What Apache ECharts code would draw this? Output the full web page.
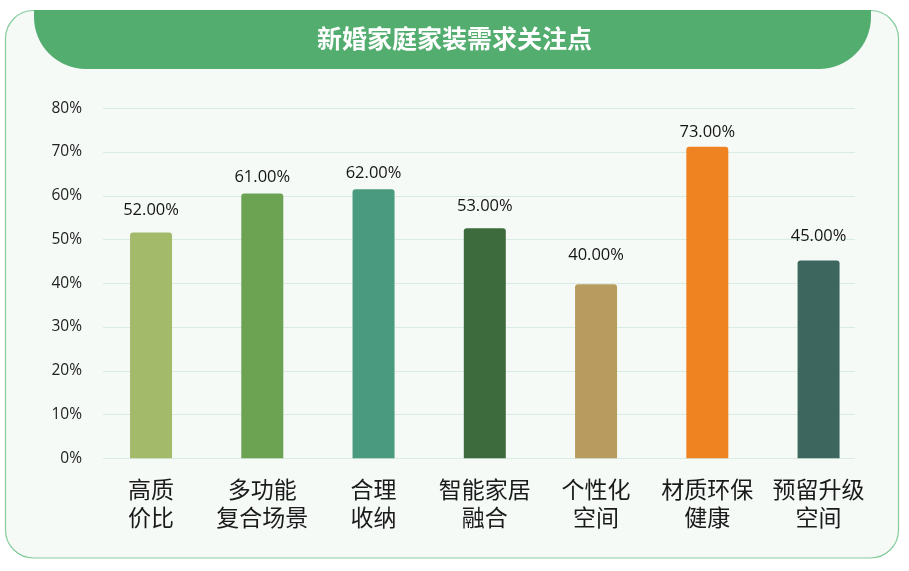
<!DOCTYPE html>
<html>
<head>
<meta charset="utf-8">
<script src="https://cdn.jsdelivr.net/npm/echarts@6/dist/echarts.min.js"></script>
<style>
html,body{margin:0;padding:0;background:#ffffff;}
#chart{width:909px;height:571px;}
</style>
</head>
<body>
<div id="chart"></div>
<script>
// ---- data ----
const categories = ['高质\n价比', '多功能\n复合场景', '合理\n收纳', '智能家居\n融合', '个性化\n空间', '材质环保\n健康', '预留升级\n空间'];
// bar heights as drawn (percent)
const barHeights = [51.6, 60.5, 61.5, 52.6, 39.8, 71.2, 45.2];
// values printed above the bars (percent)
const labelValues = [52, 61, 62, 53, 40, 73, 45];
const barColors = ['#a3ba6b', '#6ca352', '#4a9a7f', '#3e6b3e', '#b89b5f', '#ef8221', '#3d665f'];
const yTicks = [0, 10, 20, 30, 40, 50, 60, 70, 80];
const title = '新婚家庭家装需求关注点';

const chart = echarts.init(document.getElementById('chart'));
const yMin = yTicks[0], yMax = yTicks[yTicks.length - 1], yStep = yTicks[1] - yTicks[0];

chart.setOption({
  backgroundColor: '#ffffff',
  animation: false,
  title: {
    text: title,
    left: 'center',
    top: 21,
    textStyle: { color: '#ffffff', fontSize: 25, fontWeight: 'bold', fontFamily: 'Noto Sans CJK SC' },
    z: 10
  },
  graphic: [
    {
      type: 'rect', z: 0, silent: true,
      shape: { x: 5.5, y: 10.5, width: 893, height: 547.5, r: 28 },
      style: { fill: '#f5faf7', stroke: '#86cc9d', lineWidth: 1.2 }
    },
    {
      type: 'rect', z: 1, silent: true,
      shape: { x: 34, y: 10, width: 837, height: 59, r: [0, 0, 52, 52] },
      style: { fill: '#52ad6e' }
    }
  ],
  grid: [
    { left: 95.4, right: 34.8, top: 108.3, bottom: 112.7 },
    { left: 103, right: 54, top: 108.3, bottom: 112.7 },
    { left: 95.4, right: 34.8, top: 106.7, bottom: 168 }
  ],
  xAxis: [
    {
      type: 'category', gridIndex: 0, data: categories,
      axisLine: { show: false }, axisTick: { show: false },
      axisLabel: {
        interval: 0, margin: 17, color: '#1a1a1a', fontSize: 23, lineHeight: 28,
        fontFamily: 'Noto Sans CJK SC'
      }
    },
    { type: 'category', gridIndex: 1, data: categories, show: false },
    { type: 'category', gridIndex: 2, data: categories, show: false }
  ],
  yAxis: [
    { type: 'value', gridIndex: 0, min: yMin, max: yMax, interval: yStep, show: false },
    {
      type: 'value', gridIndex: 1, min: yMin, max: yMax, interval: yStep,
      axisLine: { show: false }, axisTick: { show: false },
      splitLine: { lineStyle: { color: '#d9ebe2', width: 1 } },
      axisLabel: {
        margin: 21, color: '#222222', fontSize: 15.5, fontFamily: 'Open Sans',
        formatter: v => v + '%'
      }
    },
    { type: 'value', gridIndex: 2, min: yMin, max: yMax, show: false }
  ],
  series: [
    {
      type: 'bar', xAxisIndex: 0, yAxisIndex: 0,
      barWidth: 42,
      data: barHeights.map((v, i) => ({ value: v, itemStyle: { color: barColors[i], borderRadius: [3, 3, 0, 0] } })),
      z: 3
    },
    {
      type: 'scatter', xAxisIndex: 2, yAxisIndex: 2,
      symbolSize: 1, itemStyle: { color: 'rgba(0,0,0,0)', opacity: 1 },
      data: labelValues,
      label: {
        show: true, position: 'inside', color: '#151515', fontSize: 16.5, fontFamily: 'Open Sans',
        textBorderWidth: 0,
        formatter: p => p.value.toFixed(2) + '%'
      },
      z: 4
    }
  ]
});
</script>
</body>
</html>
